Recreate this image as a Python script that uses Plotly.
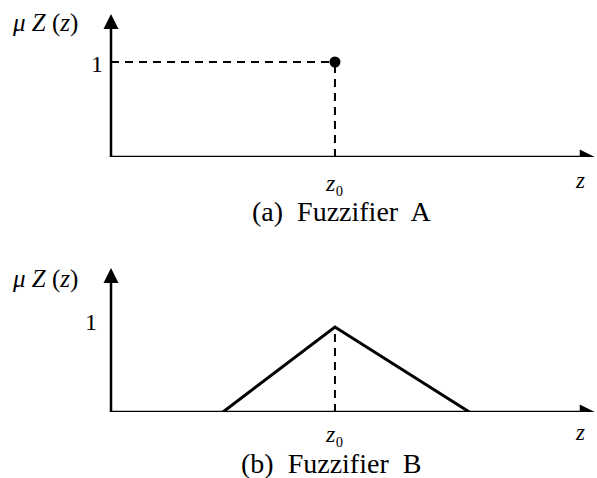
import plotly.graph_objects as go

# Membership values for the two fuzzifiers
Z0 = 5.0
Z_MAX = 10.85
singleton_z = [Z0]
singleton_mu = [1.0]
triangle_z = [2.5, Z0, 8.0]
triangle_mu = [0.0, 1.0, 0.0]
captions = ["(a)  Fuzzifier  A", "(b)  Fuzzifier  B"]
y_label = "<i>μ</i> <i>Z</i> (<i>z</i>)"
z0_label = "<i>z</i>₀"

W, H = 597, 478
SERIF = "Liberation Serif"
INK = "black"

fig = go.Figure()

hidden = dict(visible=False, fixedrange=True)
fig.update_layout(
    width=W, height=H,
    margin=dict(l=0, r=0, t=0, b=0),
    paper_bgcolor="white", plot_bgcolor="white",
    xaxis=dict(domain=[0, 1], range=[-2.478, Z_MAX], anchor="y", **hidden),
    yaxis=dict(domain=[1 - 157 / H, 1], range=[0, 157 / 95], anchor="x", **hidden),
    xaxis2=dict(domain=[0, 1], range=[-2.478, Z_MAX], anchor="y2", **hidden),
    yaxis2=dict(domain=[1 - 412 / H, 1 - 250 / H], range=[0, 162 / 85], anchor="x2", **hidden),
)

# axis lines, ending in arrowheads (arrow symbols put their tip on the point)
axis_line = dict(color=INK, width=2.5)
x_tip = 10.80
panels = [("x", "y", 143 / 95), ("x2", "y2", 144 / 85)]
for xa, ya, ytop in panels:
    fig.add_shape(type="line", xref=xa, yref=ya, x0=0, y0=0, x1=0, y1=ytop - 0.06, line=axis_line)
    fig.add_shape(type="line", xref=xa, yref=ya, x0=0, y0=0, x1=x_tip - 0.15, y1=0, line=axis_line)
    fig.add_trace(go.Scatter(x=[0], y=[ytop], mode="markers", xaxis=xa, yaxis=ya,
                             marker=dict(symbol="arrow-up", size=15, color=INK),
                             showlegend=False, hoverinfo="skip"))
    fig.add_trace(go.Scatter(x=[x_tip], y=[0], mode="markers", xaxis=xa, yaxis=ya,
                             marker=dict(symbol="arrow-right", size=15, color=INK),
                             showlegend=False, hoverinfo="skip"))

# dashed guides
dash = dict(color=INK, width=2, dash="8px,6px")
fig.add_shape(type="line", xref="x", yref="y", x0=0, y0=1, x1=Z0, y1=1, line=dash)
fig.add_shape(type="line", xref="x", yref="y", x0=Z0, y0=0, x1=Z0, y1=1, line=dash)
fig.add_shape(type="line", xref="x2", yref="y2", x0=Z0, y0=0, x1=Z0, y1=1, line=dash)

# panel A: singleton at z0
fig.add_trace(go.Scatter(x=singleton_z, y=singleton_mu, mode="markers",
                         marker=dict(size=11, color=INK), xaxis="x", yaxis="y",
                         showlegend=False, hoverinfo="skip"))
# panel B: triangular membership
fig.add_trace(go.Scatter(x=triangle_z, y=triangle_mu, mode="lines",
                         line=dict(color=INK, width=3), xaxis="x2", yaxis="y2",
                         showlegend=False, hoverinfo="skip"))


def text(s, x, y, size=22, xref="paper", xanchor="center"):
    fig.add_annotation(text=s, x=x, y=1 - y / H, xref=xref, yref="paper",
                       showarrow=False, xanchor=xanchor, yanchor="middle",
                       font=dict(family=SERIF, size=size, color=INK))

# panel A labels
text(y_label, 10 / W, 23, size=25, xanchor="left")
text("1", 97 / W, 64, size=24)
text(z0_label, Z0, 183, xref="x", size=24)
text("<i>z</i>", 580 / W, 181, size=23)
text(captions[0], 342 / W, 212, size=28)

# panel B labels
text(y_label, 10 / W, 279, size=25, xanchor="left")
text("1", 91 / W, 322, size=24)
text(z0_label, Z0, 434, xref="x2", size=24)
text("<i>z</i>", 580 / W, 432, size=23)
text(captions[1], 331 / W, 463, size=28)

fig.write_html("out.html")
